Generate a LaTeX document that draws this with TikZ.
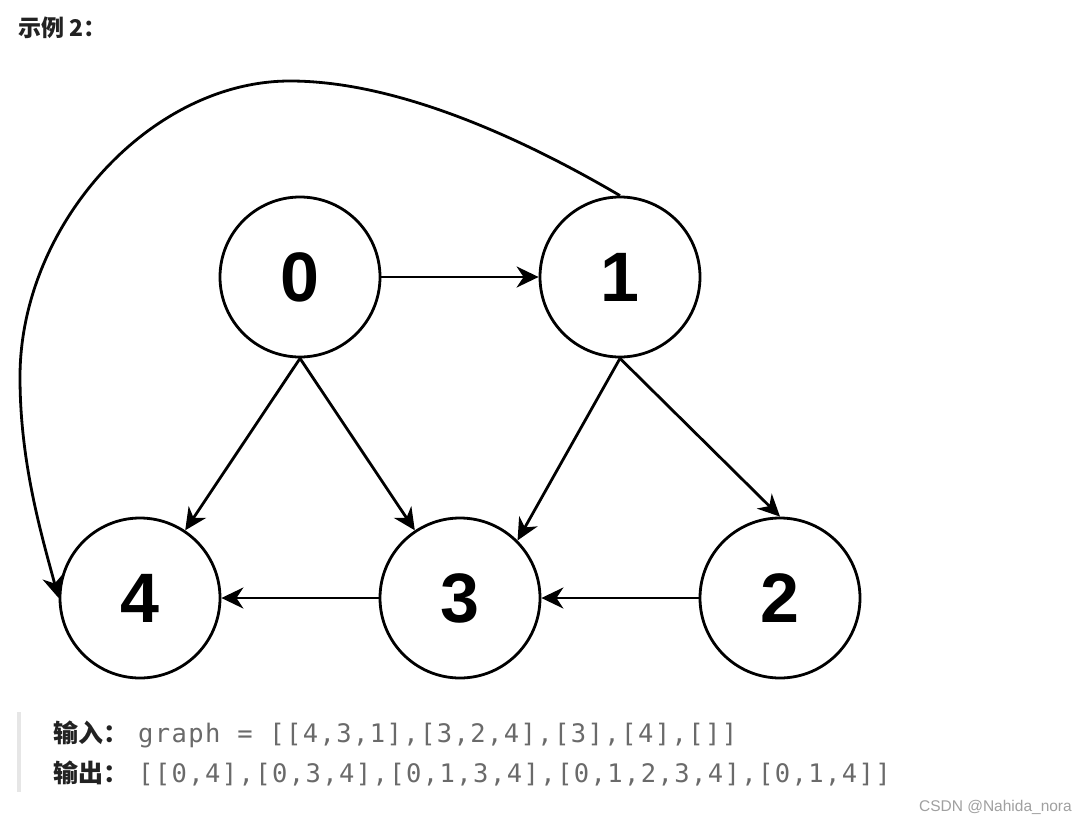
\documentclass[tikz,border=0pt]{standalone}
\usepackage{fontspec}
\setmainfont{Liberation Sans}
\newfontfamily\cjk{Noto Sans CJK SC}
\newfontfamily\monofont{DejaVu Sans Mono}
\usetikzlibrary{arrows.meta}
\definecolor{codegray}{HTML}{6A6A6A}
\definecolor{labeldark}{HTML}{222222}
\definecolor{barcol}{HTML}{E6E6E6}
\definecolor{markgray}{HTML}{A0A0A0}
\begin{document}
\begin{tikzpicture}[x=1pt,y=-1pt,
  vert/.style={circle,draw=black,line width=2.8pt,minimum size=160pt,inner sep=0pt,
    font=\fontsize{70}{70}\selectfont\bfseries},
  edge/.style={line width=2.8pt,-{Stealth[length=22pt,width=21pt,inset=7pt]}},
  cjklabel/.style={anchor=base west,inner sep=0pt,text=labeldark,
    font=\cjk\bfseries\fontsize{25}{25}\selectfont},
  codetext/.style={anchor=base west,inner sep=0pt,text=codegray,
    font=\monofont\addfontfeature{LetterSpace=5.5}\fontsize{25.5}{25.5}\selectfont}]
\useasboundingbox[fill=white] (0,0) rectangle (1086,822);

% title
\node[anchor=base west,inner sep=0pt,text=labeldark,
  font=\cjk\bfseries\fontsize{23}{23}\selectfont] (title) at (18,36) {示例 2：};

% vertices
\node[vert] (n0) at (300,277) {0};
\node[vert] (n1) at (620,277) {1};
\node[vert] (n4) at (140,598) {4};
\node[vert] (n3) at (460,598) {3};
\node[vert] (n2) at (780,598) {2};

% edges
\draw[edge] (n0.east) -- (n1.west);
\draw[edge] (n0.south) -- (n4);
\draw[edge] (n0.south) -- (n3);
\draw[edge] (n1.south) -- (n3.45);
\draw[edge] (n1.south) -- (n2.north);
\draw[edge] (n3.west) -- (n4.east);
\draw[edge] (n2.west) -- (n3.east);
\draw[edge] (n1.north) .. controls (510,131) and (390,81) .. (290,81)
  .. controls (150,81) and (20,225) .. (20,377)
  .. controls (20,460) and (40,530) .. (n4.west);

% example block
\fill[barcol] (17,712) rectangle (21,792);
\node[cjklabel] (inlab) at (53,742) {输入：};
\node[codetext] (incode) at (138,742) {graph = [[4,3,1],[3,2,4],[3],[4],[]]};
\node[cjklabel] (outlab) at (53,782) {输出：};
\node[codetext] (outcode) at (138,782) {[[0,4],[0,3,4],[0,1,3,4],[0,1,2,3,4],[0,1,4]]};

% watermark
\node[anchor=base east,inner sep=0pt,text=markgray,
  font=\fontsize{15.5}{15.5}\selectfont] (mark) at (1072,811) {CSDN @Nahida\_nora};
\end{tikzpicture}
\end{document}
